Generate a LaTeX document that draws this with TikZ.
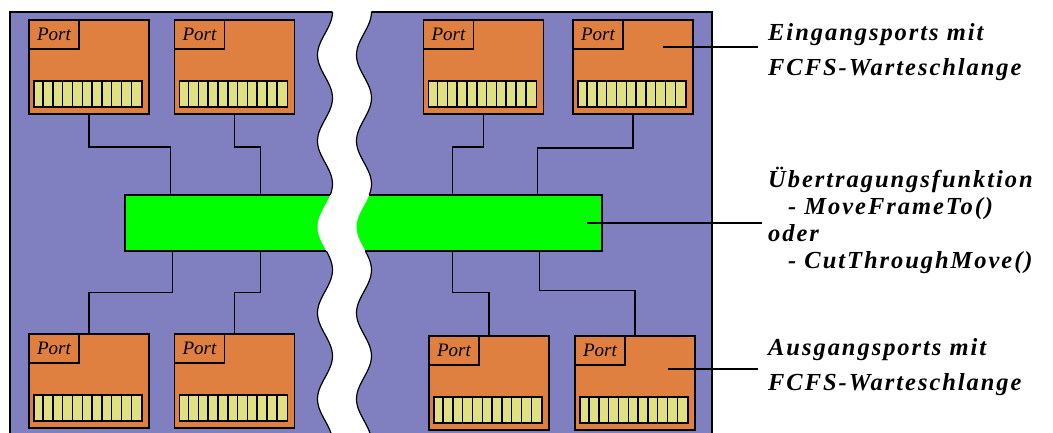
\documentclass[tikz,border=0pt]{standalone}
\usepackage{fontspec}
\setmainfont{Liberation Serif}
\usepackage{tikz}
\usetikzlibrary{positioning,calc}

\definecolor{panelblue}{RGB}{128,128,192}
\definecolor{portorange}{RGB}{224,128,64}
\definecolor{queueyellow}{RGB}{224,224,128}
\definecolor{busgreen}{RGB}{0,255,0}

% one port: box, tag and FCFS queue
\newcommand{\portunit}[3]{%
  \node[port] (#1) at (#2,#3) {};
  \node[porttag,anchor=north west] (#1t) at (#1.north west) {Port};
  \node[queue,anchor=south west] (#1q) at ([shift={(5,-7)}]#1.south west) {};
  \foreach \k in {1,...,10}
    \draw[wire] ([xshift=\k*9.8]#1q.south west) -- ([xshift=\k*9.8]#1q.north west);
}

\begin{document}
\begin{tikzpicture}[x=1pt,y=-1pt]
  \tikzset{
    wire/.style={line width=1.5pt,black},
    port/.style={draw,line width=1.5pt,fill=portorange,inner sep=0pt,minimum width=120,minimum height=94},
    porttag/.style={draw,line width=1.5pt,inner sep=0pt,minimum width=50,minimum height=29,
      font=\itshape\fontsize{19}{19}\selectfont},
    queue/.style={draw,line width=1.5pt,fill=queueyellow,inner sep=0pt,minimum width=108,minimum height=26},
    bus/.style={draw,line width=1.5pt,fill=busgreen,inner sep=0pt,minimum width=477,minimum height=56},
    note/.style={align=left,inner sep=0pt},
  }
  \useasboundingbox (0,0) rectangle (1053,432);

  % switch panel
  \fill[panelblue] (10,12) rectangle (712,440);
  \draw[line width=1.6pt] (10,440) -- (10,12) -- (712,12) -- (712,440);

  % transfer function
  \node[bus] (sw) at (363.5,223) {};

  % ports
  \portunit{p1}{89}{67}
  \portunit{p2}{234.5}{67}
  \portunit{p3}{483.5}{67}
  \portunit{p4}{633}{67}
  \portunit{p5}{89}{381}
  \portunit{p6}{234.5}{381}
  \portunit{p7}{489}{383}
  \portunit{p8}{635}{383}

  % input ports to bus
  \draw[wire] (p1.south) -- ++(0,32) -| ([xshift=46]sw.north west);
  \draw[wire] (p2.south) -- ++(0,32) -| ([xshift=136]sw.north west);
  \draw[wire] (p3.south) -- ++(0,32) -| ([xshift=328]sw.north west);
  \draw[wire] (p4.south) -- ++(0,33) -| ([xshift=413]sw.north west);
  % bus to output ports
  \draw[wire] (p5.north) -- ++(0,-41) -| ([xshift=48]sw.south west);
  \draw[wire] (p6.north) -- ++(0,-41) -| ([xshift=136]sw.south west);
  \draw[wire] (p7.north) -- ++(0,-43) -| ([xshift=328]sw.south west);
  \draw[wire] (p8.north) -- ++(0,-45) -| ([xshift=415]sw.south west);

  % break in the panel
  \fill[white] plot[domain=11:440,samples=120,variable=\t] ({325+7.5*cos(4.186*(\t-12))},\t)
    -- plot[domain=440:11,samples=120,variable=\t] ({364+7.5*cos(4.186*(\t-12))},\t) -- cycle;
  \foreach \dx in {325,364} {
    \draw[line width=1.2pt] plot[domain=12:195,samples=60,variable=\t] ({\dx+7.5*cos(4.186*(\t-12))},\t);
    \draw[line width=1.2pt] plot[domain=251:440,samples=60,variable=\t] ({\dx+7.5*cos(4.186*(\t-12))},\t);
  }

  % annotations
  \coordinate (e1) at (758,47);
  \coordinate (e2) at (762,223);
  \coordinate (e3) at (758,369);
  \draw[wire] ([shift={(30,-20)}]p4.center) -- (e1);
  \draw[wire] ([xshift=-16]sw.east) -- (e2);
  \draw[wire] ([shift={(33,-14)}]p8.center) -- (e3);
  \node[note,anchor=base west,font=\bfseries\itshape\fontsize{24.5}{35}\selectfont\addfontfeatures{LetterSpace=8}] (lin) at (768,75)
    {Eingangsports mit\\FCFS-Warteschlange};
  \node[note,anchor=base west,font=\bfseries\itshape\fontsize{24.5}{27}\selectfont\addfontfeatures{LetterSpace=8}] (lfn) at (768,268)
    {Übertragungsfunktion\\\hspace*{20pt}- MoveFrameTo()\\oder\\\hspace*{20pt}- CutThroughMove()};
  \node[note,anchor=base west,font=\bfseries\itshape\fontsize{24.5}{35}\selectfont\addfontfeatures{LetterSpace=8}] (lout) at (768,390)
    {Ausgangsports mit\\FCFS-Warteschlange};
\end{tikzpicture}
\end{document}
